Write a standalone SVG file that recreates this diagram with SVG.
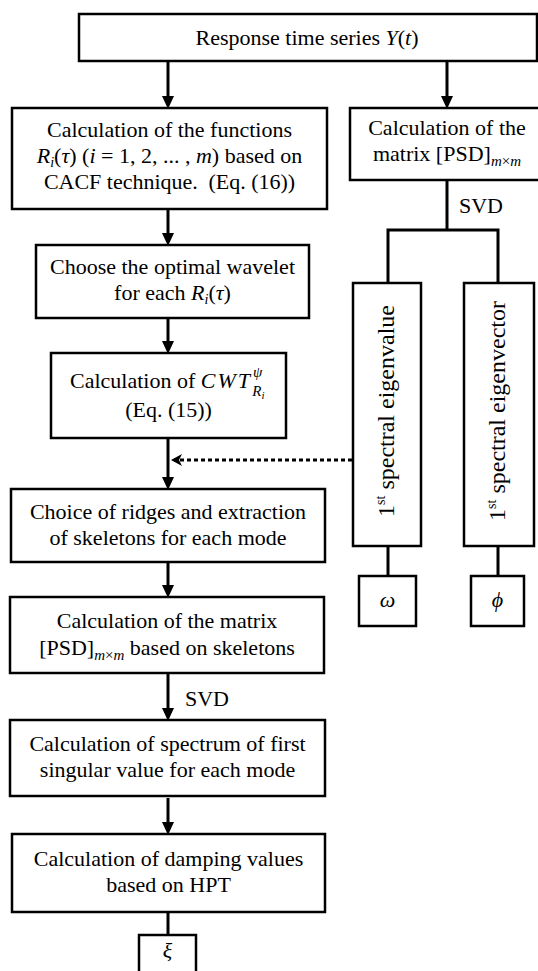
<svg xmlns="http://www.w3.org/2000/svg" width="538" height="971" viewBox="0 0 538 971">
<style>
  .box { fill: #ffffff; stroke: #000000; stroke-width: 2.5; }
  .t { font-family: "Liberation Serif", "Times New Roman", serif; font-size: 22px; fill: #000000; text-anchor: middle; }
  .ts { font-family: "Liberation Serif", "Times New Roman", serif; font-size: 22px; fill: #000000; }
  .vt { font-family: "Liberation Serif", "Times New Roman", serif; font-size: 24px; fill: #000000; text-anchor: middle; }
  .mi { font-style: italic; }
  .conn { fill: none; stroke: #000000; stroke-width: 3; }
  .dot { fill: none; stroke: #000000; stroke-width: 3; stroke-dasharray: 4 3; }
</style>
<defs>
  <marker id="arr" markerUnits="userSpaceOnUse" markerWidth="14" markerHeight="14" refX="9" refY="6" orient="auto">
    <path d="M0,0 L13,6 L0,12 z" fill="#000000"/>
  </marker>
  <marker id="arr2" markerUnits="userSpaceOnUse" markerWidth="14" markerHeight="14" refX="8" refY="6" orient="auto">
    <path d="M0,0 L11,6 L0,12 L3,6 z" fill="#000000"/>
  </marker>
</defs>
<rect width="538" height="971" fill="#ffffff"/>

<g id="connectors">
  <path class="conn" d="M168,61 V105" marker-end="url(#arr)"/>
  <path class="conn" d="M447,61 V105" marker-end="url(#arr)"/>
  <path class="conn" d="M168,209 V242" marker-end="url(#arr)"/>
  <path class="conn" d="M168,318 V350" marker-end="url(#arr)"/>
  <path class="conn" d="M168,438 V486" marker-end="url(#arr)"/>
  <path class="conn" d="M168,562 V594" marker-end="url(#arr)"/>
  <path class="conn" d="M168,673 V717" marker-end="url(#arr)"/>
  <path class="conn" d="M168,798 V831" marker-end="url(#arr)"/>
  <path class="conn" d="M168,912 V935"/>
  <path class="conn" d="M447,180 V230 M388,283 V230 H498 V283"/>
  <path class="conn" d="M388,546 V576 M498,546 V576"/>
  <path class="dot" d="M352,460 H174" marker-end="url(#arr2)"/>
  <text class="ts" x="459" y="213">SVD</text>
  <text class="ts" x="185" y="706">SVD</text>
</g>

<g id="node-response">
  <rect class="box" x="79" y="14" width="458" height="47"/>
  <text class="t" x="307" y="45">Response time series <tspan class="mi">Y</tspan>(<tspan class="mi">t</tspan>)</text>
</g>

<g id="node-cacf">
  <rect class="box" x="12" y="108" width="315" height="101"/>
  <text class="t" x="169.5" y="137">Calculation of the functions</text>
  <text class="t" x="169.5" y="163"><tspan class="mi">R</tspan><tspan class="mi" font-size="14" dy="4">i</tspan><tspan dy="-4">(</tspan><tspan class="mi">τ</tspan>) (<tspan class="mi">i</tspan> = 1, 2, ... , <tspan class="mi">m</tspan>) based on</text>
  <text class="t" x="169.5" y="189">CACF technique. <tspan dx="5">(Eq. (16))</tspan></text>
</g>

<g id="node-wavelet">
  <rect class="box" x="36" y="245" width="273" height="73"/>
  <text class="t" x="172.5" y="274">Choose the optimal wavelet</text>
  <text class="t" x="172.5" y="300">for each <tspan class="mi">R</tspan><tspan class="mi" font-size="14" dy="4">i</tspan><tspan dy="-4">(</tspan><tspan class="mi">τ</tspan>)</text>
</g>

<g id="node-cwt">
  <rect class="box" x="51" y="353" width="235" height="85"/>
  <text class="ts" x="70" y="388">Calculation of <tspan class="mi" letter-spacing="2">CWT</tspan><tspan class="mi" font-size="15" dx="1" dy="-11">ψ</tspan><tspan class="mi" font-size="15" dx="-10" dy="19">R</tspan><tspan class="mi" font-size="11" dy="3">i</tspan></text>
  <text class="t" x="168.5" y="417">(Eq. (15))</text>
</g>

<g id="node-ridges">
  <rect class="box" x="11" y="489" width="314" height="73"/>
  <text class="t" x="168" y="519">Choice of ridges and extraction</text>
  <text class="t" x="168" y="545">of skeletons for each mode</text>
</g>

<g id="node-psd-skeletons">
  <rect class="box" x="10" y="597" width="314" height="76"/>
  <text class="t" x="167" y="628">Calculation of the matrix</text>
  <text class="t" x="167" y="655">[PSD]<tspan class="mi" font-size="15" dy="5">m</tspan><tspan font-size="15">×</tspan><tspan class="mi" font-size="15">m</tspan><tspan dy="-5"> based on skeletons</tspan></text>
</g>

<g id="node-spectrum">
  <rect class="box" x="10" y="720" width="315" height="76"/>
  <text class="t" x="167.5" y="751">Calculation of spectrum of first</text>
  <text class="t" x="167.5" y="777">singular value for each mode</text>
</g>

<g id="node-damping">
  <rect class="box" x="12" y="834" width="313" height="78"/>
  <text class="t" x="168.5" y="866">Calculation of damping values</text>
  <text class="t" x="168.5" y="892">based on HPT</text>
</g>

<g id="node-xi">
  <rect class="box" x="139" y="935" width="57" height="45"/>
  <text class="t mi" x="167.5" y="958">ξ</text>
</g>

<g id="node-psd">
  <rect class="box" x="350" y="108" width="195" height="72"/>
  <text class="t" x="447" y="135">Calculation of the</text>
  <text class="t" x="447" y="161">matrix [PSD]<tspan class="mi" font-size="15" dy="5">m</tspan><tspan font-size="15">×</tspan><tspan class="mi" font-size="15">m</tspan></text>
</g>

<g id="node-eigenvalue">
  <rect class="box" x="353" y="283" width="68" height="263"/>
  <text class="vt" transform="translate(394,411) rotate(-90)">1<tspan font-size="14" dy="-9">st</tspan><tspan dy="9"> spectral eigenvalue</tspan></text>
</g>

<g id="node-eigenvector">
  <rect class="box" x="464" y="283" width="70" height="263"/>
  <text class="vt" transform="translate(505,411) rotate(-90)">1<tspan font-size="14" dy="-9">st</tspan><tspan dy="9"> spectral eigenvector</tspan></text>
</g>

<g id="node-omega">
  <rect class="box" x="359" y="576" width="57" height="50"/>
  <text class="t mi" x="387.5" y="607">ω</text>
</g>

<g id="node-phi">
  <rect class="box" x="471" y="576" width="53" height="50"/>
  <text class="t mi" x="497.5" y="607">ϕ</text>
</g>
</svg>
